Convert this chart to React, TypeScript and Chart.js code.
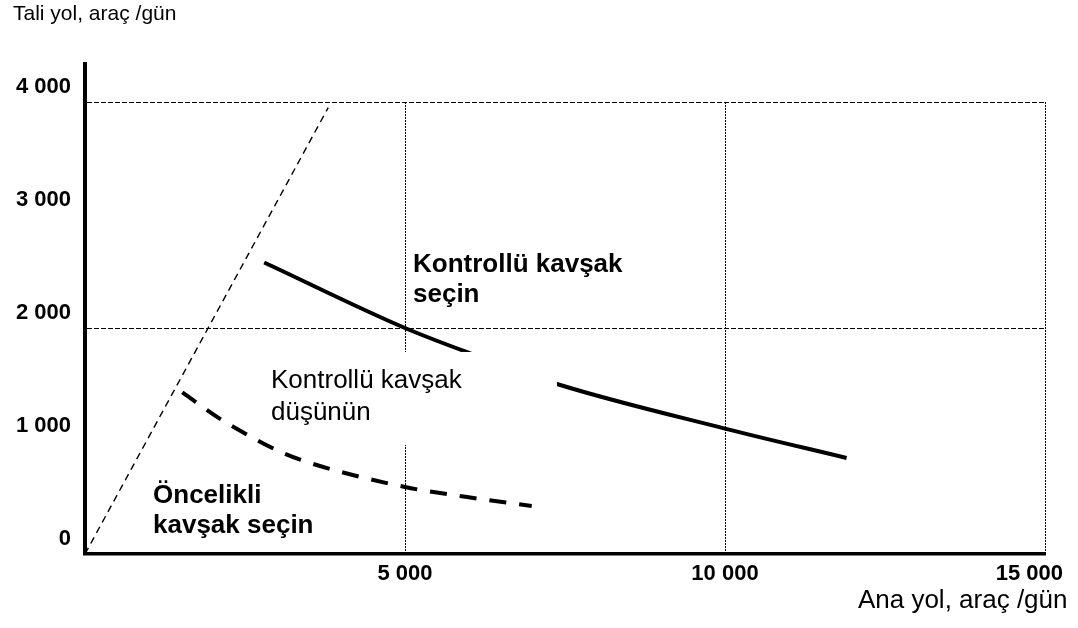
import React, { useEffect, useRef } from 'react';
import { Chart, registerables } from 'chart.js';

Chart.register(...registerables);

// ---- data ----
const xTickValues = [0, 5000, 10000, 15000];
const yTickValues = [0, 1000, 2000, 3000, 4000];
const yGridValues = [2000, 4000];
const xAxisTitle = 'Ana yol, araç /gün';
const yAxisTitle = 'Tali yol, araç /gün';

// thin dashed limit line from origin
const limitX = [0, 3800];
const limitY = [0, 3950];

// "Kontrollü kavşak seçin" boundary (solid)
const controlX = [2800, 5000, 6000, 7400, 10000, 11900];
const controlY = [2580, 2000, 1780, 1500, 1110, 850];

// "Kontrollü kavşak düşünün" boundary (dashed)
const considerX = [1520, 2140, 2350, 3050, 3520, 5000, 5970, 6980];
const considerY = [1430, 1185, 1115, 905, 805, 593, 504, 425];

// region labels
const labelControl = ['Kontrollü kavşak', 'seçin'];
const labelConsider = ['Kontrollü kavşak', 'düşünün'];
const labelPriority = ['Öncelikli', 'kavşak seçin'];

const FONT = "'Liberation Sans', Arial, Helvetica, sans-serif";

const fmt = (n: number) => String(n).replace(/\B(?=(\d{3})+(?!\d))/g, ' ');
const toPts = (xs: number[], ys: number[]) => xs.map((x, i) => ({ x, y: ys[i] }));

const decorPlugin = {
  id: 'decor',
  beforeDatasetDraw(chart: any, args: any) {
    if (args.index !== 1) return;
    const { ctx, scales } = chart;
    const x = scales.x, y = scales.y;
    const x0 = x.getPixelForValue(2766);
    const x1 = x.getPixelForValue(7375);
    const y0 = y.getPixelForValue(1788);
    const y1 = y.getPixelForValue(965);
    ctx.save();
    ctx.fillStyle = '#ffffff';
    ctx.fillRect(x0, y0, x1 - x0, y1 - y0);
    ctx.restore();
  },
  afterDraw(chart: any) {
    const { ctx, scales, chartArea } = chart;
    const x = scales.x, y = scales.y;
    ctx.save();
    // y axis extension above the top gridline
    ctx.strokeStyle = '#000';
    ctx.lineWidth = 4;
    ctx.beginPath();
    ctx.moveTo(chartArea.left, chartArea.top + 1);
    ctx.lineTo(chartArea.left, chartArea.top - 40);
    ctx.stroke();

    ctx.fillStyle = '#000';
    // x tick labels
    ctx.font = `bold 22px ${FONT}`;
    ctx.textAlign = 'left';
    ctx.textBaseline = 'alphabetic';
    const clampRight = chart.width - 15;
    x.ticks.forEach((t: any) => {
      if (t.value === 0) return;
      const txt = fmt(t.value);
      const w = ctx.measureText(txt).width;
      const px = x.getPixelForValue(t.value);
      let left = px - w / 2;
      if (left + w > clampRight) left = clampRight - w;
      ctx.fillText(txt, left, chartArea.bottom + 26);
    });

    // axis titles
    ctx.font = `21px ${FONT}`;
    ctx.textAlign = 'left';
    ctx.fillText(yAxisTitle, 13, 20);
    ctx.font = `26px ${FONT}`;
    ctx.textAlign = 'right';
    ctx.fillText(xAxisTitle, chart.width - 10.5, chart.height - 20);

    // region labels
    const drawLines = (lines: string[], vx: number, vy: number, font: string, lh: number) => {
      ctx.font = font;
      ctx.textAlign = 'left';
      const px = x.getPixelForValue(vx);
      const py = y.getPixelForValue(vy);
      lines.forEach((l, i) => ctx.fillText(l, px, py + i * lh));
    };
    drawLines(labelControl, 5125, 2496, `bold 26px ${FONT}`, 30);
    drawLines(labelConsider, 2906, 1469, `26px ${FONT}`, 32);
    drawLines(labelPriority, 1063, 451, `bold 26px ${FONT}`, 30);
    ctx.restore();
  },
};

export default function App() {
  const ref = useRef<HTMLCanvasElement | null>(null);
  useEffect(() => {
    if (!ref.current) return;
    const chart = new Chart(ref.current, {
      type: 'scatter',
      data: {
        datasets: [
          {
            label: 'limit',
            data: toPts(limitX, limitY),
            showLine: true,
            borderColor: '#000',
            borderWidth: 1.4,
            borderDash: [7, 5],
            pointRadius: 0,
            fill: false,
          },
          {
            label: 'Kontrollü kavşak düşünün',
            data: toPts(considerX, considerY),
            showLine: true,
            borderColor: '#000',
            borderWidth: 4,
            borderDash: [17, 13],
            pointRadius: 0,
            cubicInterpolationMode: 'monotone',
            fill: false,
          },
          {
            label: 'Kontrollü kavşak seçin',
            data: toPts(controlX, controlY),
            showLine: true,
            borderColor: '#000',
            borderWidth: 4,
            pointRadius: 0,
            cubicInterpolationMode: 'monotone',
            fill: false,
          },
        ],
      },
      options: {
        responsive: false,
        animation: false,
        layout: { autoPadding: false, padding: { top: 102, right: 33, bottom: 0, left: 0 } },
        plugins: { legend: { display: false }, tooltip: { enabled: false }, title: { display: false } },
        scales: {
          x: {
            type: 'linear',
            min: 0,
            max: 15000,
            afterBuildTicks: (s: any) => { s.ticks = xTickValues.map((v) => ({ value: v })); },
            ticks: { display: false },
            grid: {
              drawTicks: false,
              color: (c: any) => (c.tick && c.tick.value !== 0 ? '#000' : 'rgba(0,0,0,0)'),
              lineWidth: 1,
            },
            border: { display: true, color: '#000', width: 3.5, dash: [2, 1] },
            afterFit: (s: any) => { s.height = 74; },
          },
          y: {
            type: 'linear',
            min: 0,
            max: 4000,
            afterBuildTicks: (s: any) => { s.ticks = yTickValues.map((v) => ({ value: v })); },
            ticks: {
              callback: (v: any) => fmt(Number(v)),
              color: '#000',
              font: { family: FONT, size: 22, weight: 'bold' },
              padding: 14,
              labelOffset: -15,
            },
            grid: {
              drawTicks: false,
              color: (c: any) => (c.tick && yGridValues.includes(c.tick.value) ? '#000' : 'rgba(0,0,0,0)'),
              lineWidth: 1,
            },
            border: { display: true, color: '#000', width: 4, dash: [5, 2] },
            afterFit: (s: any) => { s.width = 85; },
          },
        },
      },
      plugins: [decorPlugin],
    } as any);
    return () => chart.destroy();
  }, []);
  return (
    <div style={{ position: 'absolute', left: 0, top: 0, width: 1078, height: 628 }}>
      <canvas ref={ref} width={1078} height={628} style={{ display: 'block' }} />
    </div>
  );
}
